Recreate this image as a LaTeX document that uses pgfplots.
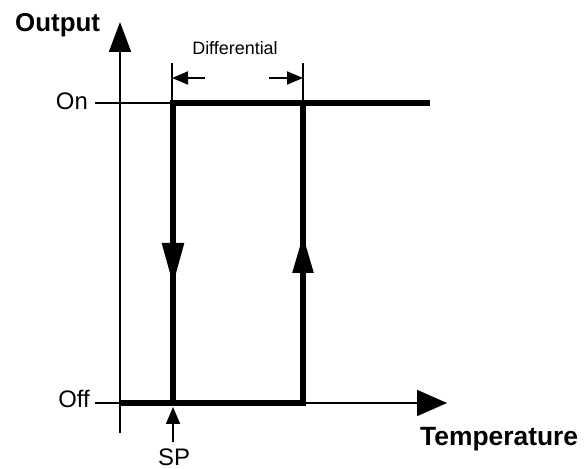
\documentclass[border=0pt]{standalone}
\usepackage{pgfplots}
\pgfplotsset{compat=1.18}
\usepackage{fontspec}
\setmainfont{Liberation Sans}
\usetikzlibrary{arrows.meta}
\begin{document}
\begin{tikzpicture}
\begin{axis}[width=584bp, height=469bp, scale only axis,
  xmin=0, xmax=584, ymin=0, ymax=469, hide axis, clip=false]
% bounding box
\addplot[draw=none, forget plot] coordinates {(0,0) (584,469)};
% axes
\addplot[black, line width=1.8bp, -{Triangle[length=30bp,width=22bp]}] coordinates {(120,36) (120,447)};
\addplot[black, line width=1.8bp, -{Triangle[length=30bp,width=26bp]}] coordinates {(95,66) (447,66)};
% On tick
\addplot[black, line width=1.8bp] coordinates {(95,366) (173,366)};
% hysteresis loop
\addplot[black, line width=5.5bp] coordinates {(430,366) (173,366) (173,66)};
\addplot[black, line width=5.5bp] coordinates {(120,66) (303,66) (303,366)};
% direction arrows on loop
\addplot[black, line width=5.5bp, -{Triangle[length=42bp,width=21bp]}] coordinates {(173,240) (173,184)};
\addplot[black, line width=5.5bp, -{Triangle[length=38bp,width=20bp]}] coordinates {(303,180) (303,234)};
% differential
\addplot[black, line width=1.8bp] coordinates {(172,366) (172,406)};
\addplot[black, line width=1.8bp] coordinates {(303,366) (303,406)};
\addplot[black, line width=1.8bp, -{Triangle[length=16bp,width=13bp]}] coordinates {(205,391) (172,391)};
\addplot[black, line width=1.8bp, -{Triangle[length=16bp,width=13bp]}] coordinates {(269,391) (303,391)};
% SP arrow
\addplot[black, line width=1.8bp, -{Triangle[length=17bp,width=14bp]}] coordinates {(173,27) (173,62)};
% labels
\node[anchor=base west, inner sep=0pt, font=\fontsize{26}{28}\selectfont\bfseries] at (axis cs:15,437) {Output};
\node[anchor=base west, inner sep=0pt, font=\fontsize{26.5}{28}\selectfont\bfseries] at (axis cs:420,24) {Temperature};
\node[anchor=base east, inner sep=0pt, font=\fontsize{24}{28}\selectfont] at (axis cs:88,359) {On};
\node[anchor=base east, inner sep=0pt, font=\fontsize{24}{28}\selectfont] at (axis cs:90,61) {Off};
\node[anchor=base, inner sep=0pt, font=\fontsize{24}{28}\selectfont] at (axis cs:174,4) {SP};
\node[anchor=base, inner sep=0pt, font=\fontsize{18}{22}\selectfont] at (axis cs:235,414) {Differential};
\end{axis}
\end{tikzpicture}
\end{document}
